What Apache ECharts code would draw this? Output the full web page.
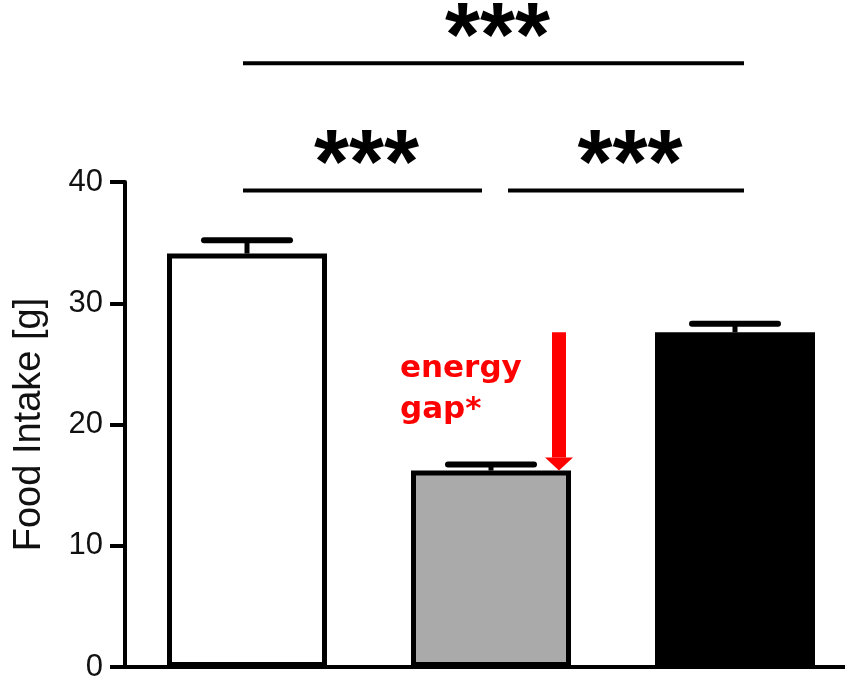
<!DOCTYPE html>
<html>
<head>
<meta charset="utf-8">
<script src="https://cdn.jsdelivr.net/npm/echarts@6/dist/echarts.min.js"></script>
<style>
  html, body { margin: 0; padding: 0; background: #fff; }
  #chart { width: 845px; height: 679px; }
</style>
</head>
<body>
<div id="chart"></div>
<script>
// groups (x labels are cut off in the original figure)
var categories = ['Group 1', 'Group 2', 'Group 3'];
var means = [34.1, 16.2, 27.6];
var errTops = [35.2, 16.7, 28.3];
var barColors = ['#ffffff', '#aaaaab', '#000000'];
var yTicks = [0, 10, 20, 30, 40];
// significance brackets: [from group, to group, height]
var brackets = [[0, 1, 39.3], [1, 2, 39.3], [0, 2, 49.8]];
var bracketText = '***';
// arrow on group 2: [group, start value, tip value]
var gapArrow = [1, 27.6, 16.2];
var gapText = ['energy', 'gap*'];

var chart = echarts.init(document.getElementById('chart'));

var option = {
  backgroundColor: '#ffffff',
  animation: false,
  grid: {
    left: 125,
    top: 182,
    width: 732,
    bottom: 12,
    outerBoundsMode: 'none'
  },
  xAxis: {
    type: 'category',
    data: categories,
    axisLine: { lineStyle: { color: '#000', width: 4 } },
    axisTick: { show: false },
    axisLabel: { show: false },
    splitLine: { show: false }
  },
  yAxis: {
    type: 'value',
    min: yTicks[0],
    max: yTicks[yTicks.length - 1],
    interval: 10,
    name: 'Food Intake [g]',
    nameLocation: 'middle',
    nameRotate: 90,
    nameGap: 76,
    nameTextStyle: { fontSize: 38, color: '#111', fontFamily: 'Liberation Sans' },
    axisLine: { show: true, lineStyle: { color: '#000', width: 4 } },
    axisTick: { show: true, length: 15, lineStyle: { color: '#000', width: 4 } },
    axisLabel: { fontSize: 31, color: '#111', margin: 22, fontFamily: 'Liberation Sans' },
    splitLine: { show: false }
  },
  series: [
    {
      type: 'bar',
      barWidth: 160,
      z: 2,
      data: means.map(function (v, i) {
        return {
          value: v,
          itemStyle: { color: barColors[i], borderColor: '#000', borderWidth: 5 }
        };
      })
    },
    {
      // error bars
      type: 'custom',
      z: 3,
      clip: false,
      data: means.map(function (v, i) { return [i, v, errTops[i]]; }),
      renderItem: function (params, api) {
        var base = api.coord([api.value(0), api.value(1)]);
        var top = api.coord([api.value(0), api.value(2)]);
        var half = 43;
        return {
          type: 'group',
          children: [
            { type: 'line', shape: { x1: base[0], y1: base[1], x2: top[0], y2: top[1] },
              style: { stroke: '#000', lineWidth: 5 } },
            { type: 'line', shape: { x1: top[0] - half, y1: top[1], x2: top[0] + half, y2: top[1] },
              style: { stroke: '#000', lineWidth: 6, lineCap: 'round' } }
          ]
        };
      }
    },
    {
      // significance brackets
      type: 'custom',
      z: 3,
      clip: false,
      data: brackets,
      renderItem: function (params, api) {
        var from = api.value(0), to = api.value(1), y = api.value(2);
        var p0 = api.coord([from, y]);
        var p1 = api.coord([to, y]);
        var x0 = p0[0] + (from === 1 ? 17 : -4);
        var x1 = p1[0] + (to === 1 ? -9 : 9);
        return {
          type: 'group',
          children: [
            { type: 'line', shape: { x1: x0, y1: p0[1], x2: x1, y2: p0[1] },
              style: { stroke: '#000', lineWidth: 4 } },
            { type: 'text', x: (x0 + x1) / 2 + 4, y: p0[1] - 22,
              style: { text: bracketText, font: 'bold 90px "Liberation Sans"', fill: '#000',
                       textAlign: 'center', textVerticalAlign: 'middle' } }
          ]
        };
      }
    },
    {
      // energy gap arrow + label
      type: 'custom',
      z: 4,
      clip: false,
      data: [gapArrow],
      renderItem: function (params, api) {
        var start = api.coord([api.value(0), api.value(1)]);
        var tip = api.coord([api.value(0), api.value(2)]);
        var x = start[0] + 68;
        var headH = 13;
        return {
          type: 'group',
          children: [
            { type: 'rect', shape: { x: x - 7, y: start[1], width: 14, height: tip[1] - headH - start[1] },
              style: { fill: '#ff0000' } },
            { type: 'polygon', shape: { points: [[x - 14, tip[1] - headH], [x + 14, tip[1] - headH], [x, tip[1]]] },
              style: { fill: '#ff0000' } },
            { type: 'text', x: start[0] - 91, y: start[1] + 37,
              style: { text: gapText[0], font: 'bold 31px "DejaVu Sans"', fill: '#ff0000',
                       textAlign: 'left', textVerticalAlign: 'middle' } },
            { type: 'text', x: start[0] - 91, y: start[1] + 78,
              style: { text: gapText[1], font: 'bold 31px "DejaVu Sans"', fill: '#ff0000',
                       textAlign: 'left', textVerticalAlign: 'middle' } }
          ]
        };
      }
    }
  ]
};

chart.setOption(option);
</script>
</body>
</html>
